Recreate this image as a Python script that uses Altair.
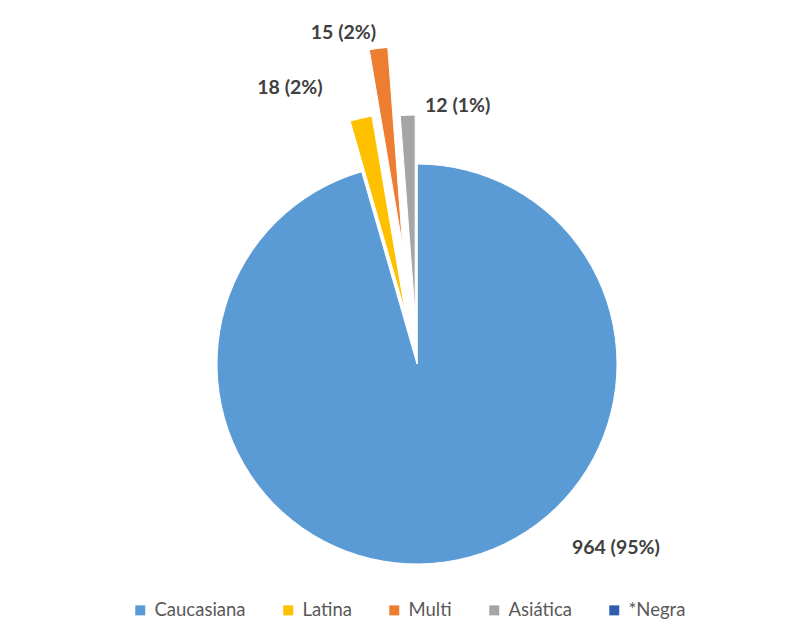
import altair as alt
import pandas as pd

# ---- data ----
categories = ["Caucasiana", "Latina", "Multi", "Asiática", "*Negra"]
values = [964, 18, 15, 12, 0]
labels = ["964 (95%)", "18 (2%)", "15 (2%)", "12 (1%)", ""]

# ---- style ----
colors = ["#5B9BD5", "#FFC000", "#ED7D31", "#A5A5A5", "#2F5DAF"]
explode_px = [0, 52, 118, 49, 0]           # radial explosion of each slice
label_shift = {                             # label offsets from the slice's outer point
    "Caucasiana": (171, -14),
    "Latina": (-71, -30),
    "Multi": (-35, -15),
    "Asiática": (50, -9),
}
W, H = 770, 612
CX, CY, R = 409, 356, 200

df = pd.DataFrame({
    "cat": categories,
    "value": values,
    "label": labels,
    "order": list(range(len(categories))),
    "explode": explode_px,
})

color_scale = alt.Scale(domain=categories, range=colors)

base = (
    alt.Chart(df)
    .transform_joinaggregate(total="sum(value)")
    .transform_window(cum="sum(value)", sort=[alt.SortField("order")], frame=[None, 0])
    .transform_calculate(
        t0="(datum.cum - datum.value) / datum.total",
        t1="datum.cum / datum.total",
    )
    .transform_calculate(mid="(datum.t0 + datum.t1) * PI")
    .transform_calculate(
        cx=f"{CX} + datum.explode * sin(datum.mid)",
        cy=f"{CY} - datum.explode * cos(datum.mid)",
        ox=f"{CX} + (datum.explode + {R}) * sin(datum.mid)",
        oy=f"{CY} - (datum.explode + {R}) * cos(datum.mid)",
    )
)

arcs = base.mark_arc(radius=R, stroke="white", strokeWidth=1).encode(
    theta=alt.Theta("t0:Q", scale=alt.Scale(domain=[0, 1])),
    theta2="t1:Q",
    x=alt.X("cx:Q", scale=None, axis=None),
    y=alt.Y("cy:Q", scale=None, axis=None),
    color=alt.Color(
        "cat:N",
        scale=color_scale,
        sort=categories,
        legend=alt.Legend(
            title=None,
            orient="none",
            direction="horizontal",
            legendX=123,
            legendY=593,
            symbolType="square",
            symbolSize=100,
            symbolStrokeWidth=0,
            labelFont="Lato",
            labelFontSize=18.5,
            labelColor="#595959",
            labelOffset=5,
            columnPadding=33,
        ),
    ),
)

text_layers = []
for cat, (dx, dy) in label_shift.items():
    t = (
        base.transform_filter(alt.datum.cat == cat)
        .mark_text(
            font="Lato",
            fontSize=19.5,
            fontWeight="bold",
            color="#404040",
            dx=dx,
            dy=dy,
            align="center",
            baseline="middle",
        )
        .encode(
            x=alt.X("ox:Q", scale=None, axis=None),
            y=alt.Y("oy:Q", scale=None, axis=None),
            text="label:N",
        )
    )
    text_layers.append(t)

chart = (
    alt.layer(arcs, *text_layers)
    .properties(
        width=W,
        height=H,
        autosize=alt.AutoSizeParams(type="none"),
        padding=0,
        view=alt.ViewBackground(stroke=None, strokeWidth=0),
    )
    .configure_view(stroke=None, strokeWidth=0)
    .configure(background="white")
)

chart.save("out.html", embed_options={"renderer": "svg", "actions": False})
